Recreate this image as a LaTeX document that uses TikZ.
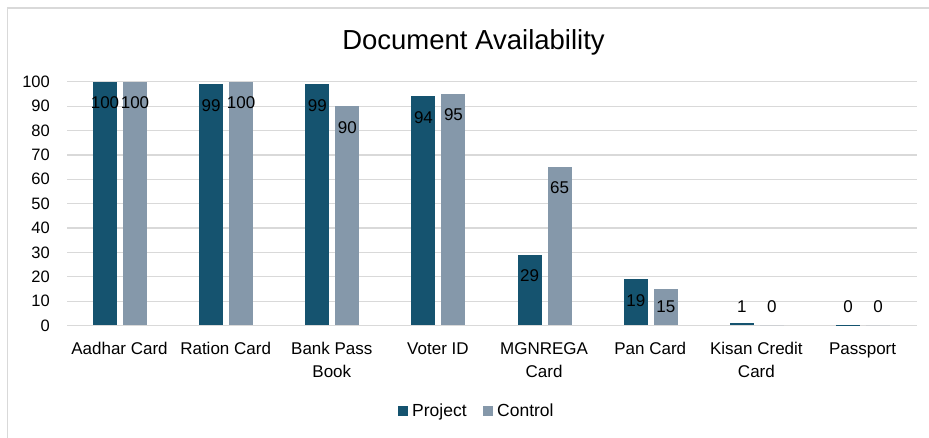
\documentclass[tikz,border=0pt]{standalone}
\usepackage{fontspec}
\setmainfont{Liberation Sans}
\definecolor{projblue}{HTML}{15536F}
\definecolor{ctrlgray}{HTML}{8598AA}
\definecolor{gridgray}{HTML}{D9D9D9}
\tikzset{
  gridline/.style={gridgray, line width=1.2pt},
  vallabel/.style={font=\fontsize{17}{18}\selectfont, inner sep=0pt},
  ticklabel/.style={anchor=east, font=\fontsize{16.5}{18}\selectfont, inner sep=0pt},
  catlabel/.style={font=\fontsize{17}{23}\selectfont, inner sep=0pt, anchor=base},
  leglabel/.style={anchor=base west, font=\fontsize{17.5}{18}\selectfont, inner sep=0pt},
}
\begin{document}
\begin{tikzpicture}[x=1pt,y=-1pt]
  \useasboundingbox (0,0) rectangle (929,438);
  % frame
  \draw[gridgray, line width=1.5pt] (7.5,438) -- (7.5,8) -- (929,8);
  \node[font=\fontsize{27.5}{30}\selectfont, anchor=base, inner sep=0pt] (title) at (473.5,50) {Document Availability};
  % grid and ticks
  \foreach \v in {0,10,...,100}{
    \draw[gridline] (67,325.5-\v*2.437) -- (917,325.5-\v*2.437);
    \node[ticklabel] (tick\v) at (50,325.5-\v*2.437) {\v};
  }
  % bars
  \foreach \name/\p/\c [count=\i from 0] in {{Aadhar Card}/100/100, {Ration Card}/99/100,
      {Bank Pass\\Book}/99/90, {Voter ID}/94/95, {MGNREGA\\Card}/29/65, {Pan Card}/19/15,
      {Kisan Credit\\Card}/1/0, {Passport}/0.3/0}{
    \pgfmathsetmacro{\xc}{119.5+\i*106.15}
    \fill[projblue] (\xc-26.5,325.5) rectangle (\xc-2.5,325.5-\p*2.437);
    \fill[ctrlgray] (\xc+3.5,325.5) rectangle (\xc+27.5,325.5-\c*2.437);
    \pgfmathsetmacro{\py}{min(325.5-\p*2.437+21,307)}
    \pgfmathsetmacro{\cy}{min(325.5-\c*2.437+21,307)}
    \pgfmathtruncatemacro{\pl}{round(\p)}
    \pgfmathtruncatemacro{\cl}{round(\c)}
    \node[vallabel] (pval\i) at (\xc-14.5,\py) {\pl};
    \node[vallabel] (cval\i) at (\xc+15.5,\cy) {\cl};
    \node[catlabel] (cat\i) at (\xc,354) {\begin{tabular}[t]{@{}c@{}}\name\end{tabular}};
  }
  % legend
  \fill[projblue] (398,406) rectangle (407.5,415.5);
  \node[leglabel] (legproj) at (412,416) {Project};
  \fill[ctrlgray] (483,406) rectangle (492.5,415.5);
  \node[leglabel] (legctrl) at (497,416) {Control};
\end{tikzpicture}
\end{document}
